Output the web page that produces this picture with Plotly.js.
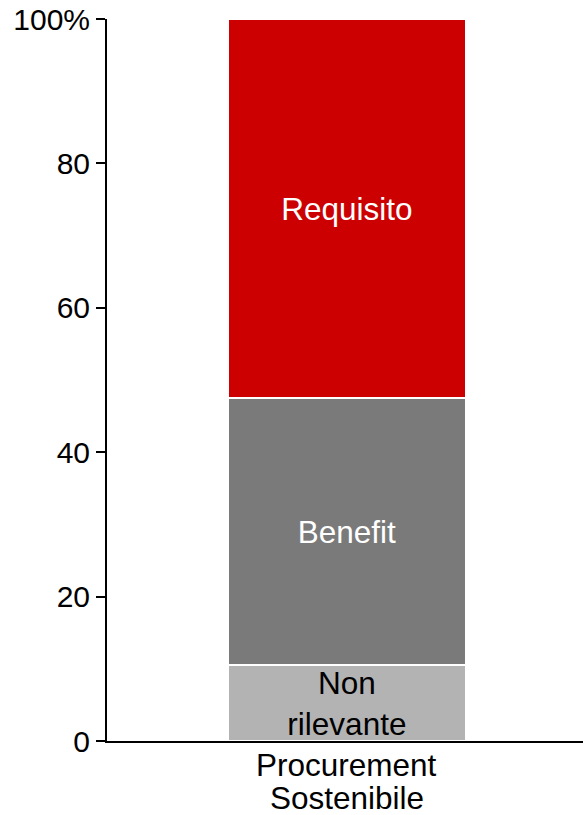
<!DOCTYPE html>
<html>
<head>
<meta charset="utf-8">
<script src="https://cdn.plot.ly/plotly-3.0.1.min.js"></script>
<style>
  html, body { margin: 0; padding: 0; background: #ffffff; }
  #chart { width: 583px; height: 815px; }
</style>
</head>
<body>
<div id="chart"></div>
<script>
const categories = ['Procurement Sostenibile'];
const categoryLines = [['Procurement', 'Sostenibile']];
const seriesNames = ['Non<br>rilevante', 'Benefit', 'Requisito'];
const nonRilevante = [10.5];
const benefit = [37.0];
const requisito = [52.5];
const tickValues = [0, 20, 40, 60, 80, 100];
const tickLabels = ['0', '20', '40', '60', '80', '100%'];

const colors = ['#b3b3b3', '#7a7a7a', '#cc0000'];
const textColors = ['#000000', '#ffffff', '#ffffff'];
const seriesValues = [nonRilevante, benefit, requisito];

const FONT = 'Liberation Sans, Arial, sans-serif';

const traces = seriesValues.map((vals, i) => ({
  type: 'bar',
  name: seriesNames[i],
  x: categories,
  y: vals,
  width: 0.5,
  marker: { color: colors[i], line: { color: '#ffffff', width: 2 } },
  text: vals.map(() => seriesNames[i]),
  texttemplate: '%{text}',
  textposition: 'inside',
  insidetextanchor: 'middle',
  constraintext: 'none',
  textfont: { family: FONT, size: 31.5, color: textColors[i] },
  hoverinfo: 'skip'
}));

// category labels drawn as two tight lines under the axis
const annotations = [];
categories.forEach((cat, ci) => {
  categoryLines[ci].forEach((line, li) => {
    annotations.push({
      xref: 'x', yref: 'paper',
      x: cat, y: 0,
      text: line,
      showarrow: false,
      xanchor: 'center', yanchor: 'middle',
      yshift: -24 - li * 33,
      font: { family: FONT, size: 31.5, color: '#000000' }
    });
  });
});

const layout = {
  width: 583,
  height: 815,
  barmode: 'stack',
  showlegend: false,
  paper_bgcolor: '#ffffff',
  plot_bgcolor: '#ffffff',
  margin: { l: 107, r: 0, t: 19, b: 74 },
  font: { family: FONT, size: 30, color: '#000000' },
  annotations: annotations,
  xaxis: {
    range: [-0.504, 0.496],
    showline: true,
    linecolor: '#000000',
    linewidth: 2,
    ticks: '',
    showticklabels: false,
    showgrid: false,
    zeroline: false
  },
  yaxis: {
    range: [0, 100],
    tickvals: tickValues,
    ticktext: tickLabels,
    ticks: 'outside',
    ticklen: 9,
    tickwidth: 2,
    tickcolor: '#000000',
    showline: true,
    linecolor: '#000000',
    linewidth: 2,
    showgrid: false,
    zeroline: false,
    tickfont: { family: FONT, size: 30, color: '#000000' }
  }
};

Plotly.newPlot('chart', traces, layout, { staticPlot: true, displayModeBar: false });
</script>
</body>
</html>
